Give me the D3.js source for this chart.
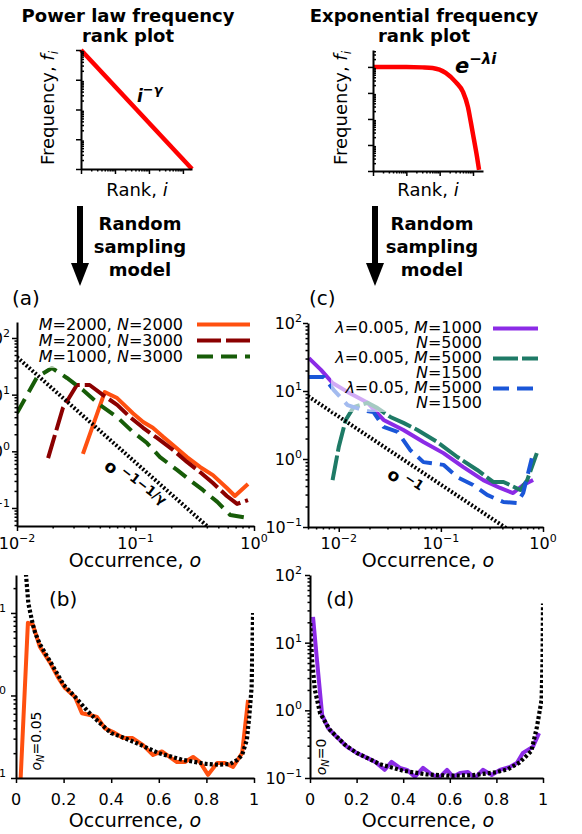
<!DOCTYPE html>
<html>
<head>
<meta charset="utf-8">
<script src="https://cdn.jsdelivr.net/npm/d3@7"></script>
<style>
  body { margin: 0; background: #fff; }
  text { white-space: pre; }
</style>
</head>
<body>
<div id="fig"></div>
<script>
// ---- values ----

// schematic rank plots (top row)
const powRank = [1, 1850];
const powFreq = [1, 0.0001];
const expRank = [1, 10, 30, 61, 152, 305, 500, 705, 870, 1070, 1320, 1520];
const expFreq = [1, 0.99, 0.96, 0.91, 0.59, 0.26, 0.11, 0.029, 0.007, 0.0016, 0.00035, 0.00011];

// (a) power law, occurrence distributions
const occA1 = [0.036, 0.055, 0.070, 0.095, 0.116, 0.14, 0.171, 0.207, 0.272, 0.35, 0.45, 0.59, 0.69, 0.89];
const valA1 = [0.9, 11.1, 8.7, 4.7, 3.3, 2.6, 1.8, 1.29, 0.79, 0.53, 0.38, 0.225, 0.163, 0.265];
const occA2 = [0.0183, 0.0244, 0.032, 0.041, 0.053, 0.070, 0.090, 0.116, 0.152, 0.207, 0.272, 0.35, 0.45, 0.59, 0.72, 0.89];
const valA2 = [0.76, 5.8, 14.8, 14.8, 9.9, 6.6, 4.0, 2.6, 1.72, 1.06, 0.65, 0.43, 0.276, 0.163, 0.118, 0.138];
const occA3 = [0.01, 0.0148, 0.0197, 0.0264, 0.036, 0.050, 0.070, 0.095, 0.125, 0.161, 0.224, 0.288, 0.37, 0.49, 0.63, 0.87];
const valA3 = [4.75, 20.5, 29.6, 19.7, 12.1, 6.6, 4.0, 2.2, 1.4, 0.79, 0.47, 0.31, 0.208, 0.128, 0.075, 0.067];
const refOccA = [0.01, 1];
const refValA = [46, 0.0088];
const legA = [[2000, 2000], [2000, 3000], [1000, 3000]];

// (c) exponential, occurrence distributions
const occC1 = [0.0051, 0.0067, 0.0087, 0.0122, 0.0192, 0.0275, 0.043, 0.0675, 0.106, 0.166, 0.26, 0.38, 0.51, 0.64, 0.80];
const valC1 = [30.5, 20.4, 13.1, 9.7, 6.7, 3.75, 2.67, 1.78, 1.22, 0.76, 0.49, 0.375, 0.316, 0.415, 0.49];
const occC2 = [0.0087, 0.01, 0.0117, 0.014, 0.0192, 0.024, 0.032, 0.043, 0.059, 0.092, 0.145, 0.227, 0.325, 0.41, 0.60, 0.70, 0.87];
const valC2 = [0.49, 1.5, 3.75, 5.8, 6.7, 5.6, 4.15, 3.4, 2.67, 1.78, 1.07, 0.69, 0.46, 0.46, 0.35, 0.49, 1.22];
const occC3 = [0.0051, 0.0071, 0.0089, 0.0122, 0.0175, 0.0219, 0.0275, 0.0377, 0.050, 0.0675, 0.106, 0.145, 0.207, 0.284, 0.41, 0.557, 0.64, 0.80];
const valC3 = [16.1, 16.1, 10.4, 6.2, 5.2, 4.9, 2.96, 2.5, 1.36, 0.90, 0.82, 0.54, 0.415, 0.296, 0.233, 0.225, 0.316, 1.22];
const refOccC = [0.005, 1];
const refValC = [8.4, 0.042];
const legC = [[0.005, 1000, 5000], [0.005, 5000, 1500], [0.05, 5000, 1500]];

// (b) single power-law case, linear occurrence
const occB = [0.018, 0.05, 0.071, 0.10, 0.143, 0.176, 0.206, 0.248, 0.277, 0.311, 0.34, 0.374, 0.408, 0.45, 0.49, 0.534, 0.576, 0.613, 0.676, 0.71, 0.744, 0.773, 0.807, 0.845, 0.878, 0.912, 0.95, 0.975];
const valB = [0.08, 7.6, 7.2, 3.9, 2.5, 1.67, 1.23, 0.96, 0.61, 0.58, 0.55, 0.40, 0.36, 0.305, 0.305, 0.25, 0.19, 0.21, 0.156, 0.156, 0.18, 0.156, 0.109, 0.152, 0.152, 0.136, 0.20, 0.88];
const occBt = [0.038, 0.052, 0.062, 0.071, 0.08, 0.1, 0.15, 0.2, 0.25, 0.3, 0.35, 0.4, 0.45, 0.5, 0.6, 0.7, 0.8, 0.85, 0.9, 0.93, 0.95, 0.97, 0.98, 0.99, 0.996];
const valBt = [40, 13, 9.5, 7.2, 5.8, 4.2, 2.4, 1.35, 0.95, 0.65, 0.47, 0.35, 0.31, 0.27, 0.2, 0.166, 0.148, 0.145, 0.148, 0.166, 0.19, 0.29, 0.55, 1.26, 10];

// (d) single exponential case, linear occurrence
const occD = [0.013, 0.03, 0.052, 0.077, 0.116, 0.159, 0.20, 0.245, 0.28, 0.32, 0.35, 0.386, 0.416, 0.45, 0.485, 0.524, 0.558, 0.588, 0.614, 0.644, 0.678, 0.708, 0.742, 0.78, 0.815, 0.858, 0.888, 0.914, 0.957, 0.983];
const valD = [24, 5.5, 0.86, 0.55, 0.40, 0.29, 0.235, 0.198, 0.173, 0.132, 0.173, 0.141, 0.132, 0.104, 0.141, 0.111, 0.104, 0.132, 0.104, 0.119, 0.123, 0.1, 0.132, 0.111, 0.132, 0.146, 0.167, 0.235, 0.29, 0.46];
const occDt = [0.001, 0.009, 0.021, 0.043, 0.086, 0.15, 0.2, 0.3, 0.4, 0.5, 0.6, 0.7, 0.8, 0.85, 0.9, 0.95, 0.974, 0.994, 0.998, 1.0];
const valDt = [19.5, 5.5, 2.0, 0.91, 0.51, 0.31, 0.235, 0.16, 0.128, 0.113, 0.108, 0.11, 0.122, 0.135, 0.17, 0.25, 0.57, 1.43, 5.5, 38];

const linTicks = [0, 0.2, 0.4, 0.6, 0.8, 1];

// ---- drawing ----
const svg = d3.select("#fig")
  .append("svg")
  .attr("width", 582)
  .attr("height", 834)
  .style("font-family", "'DejaVu Sans', sans-serif");

const defs = svg.append("defs");

function clip(id, x, y) {
  const [x0, x1] = x.range(), [y1, y0] = y.range();
  defs.append("clipPath").attr("id", id).append("rect")
    .attr("x", x0).attr("y", y0).attr("width", x1 - x0).attr("height", y1 - y0);
}

function logMinor(s) {
  const [a, b] = s.domain();
  const v = [];
  for (let e = Math.floor(Math.log10(a)); e < Math.ceil(Math.log10(b)); e++)
    for (let k = 2; k < 10; k++) {
      const t = k * Math.pow(10, e);
      if (t >= a && t <= b) v.push(t);
    }
  return v;
}

function drawAxes(x, y, xMaj, xMin, yMaj, yMin, yMinIn) {
  const g = svg.append("g");
  const yb = y.range()[0], xl = x.range()[0];
  g.append("g").attr("transform", `translate(0,${yb})`)
    .call(d3.axisBottom(x).tickValues(xMaj).tickSize(5).tickSizeOuter(0).tickFormat(""));
  if (xMin.length) g.append("g").attr("transform", `translate(0,${yb})`)
    .call(d3.axisBottom(x).tickValues(xMin).tickSize(2.5).tickSizeOuter(0).tickFormat(""))
    .select(".domain").remove();
  g.append("g").attr("transform", `translate(${xl},0)`)
    .call(d3.axisLeft(y).tickValues(yMaj).tickSize(5).tickSizeOuter(0).tickFormat(""));
  if (yMin.length) g.append("g").attr("transform", `translate(${xl},0)`)
    .call(d3.axisLeft(y).tickValues(yMin).tickSize(yMinIn ? -3 : 2.5).tickSizeOuter(0).tickFormat(""))
    .select(".domain").remove();
  g.selectAll(".domain").attr("stroke-width", 2);
  g.selectAll(".tick line").attr("stroke-width", 1.5);
  return g;
}

function powLabel(x, y, exp, anchor) {
  const t = svg.append("text").attr("x", x).attr("y", y)
    .attr("text-anchor", anchor).attr("font-size", 16).attr("fill", "#000");
  t.append("tspan").text("10");
  t.append("tspan").attr("dy", -7).attr("font-size", 11).text(exp);
}

function richText(x, y, parts, size, anchor) {
  const t = svg.append("text").attr("x", x).attr("y", y)
    .attr("text-anchor", anchor).attr("font-size", size);
  parts.forEach(p => t.append("tspan").attr("font-style", p[1] ? "italic" : null).text(p[0]));
  return t;
}

function series(id, x, y, xs, ys, color, dash, width, curve) {
  svg.append("path")
    .datum(d3.zip(xs, ys))
    .attr("clip-path", `url(#${id})`)
    .attr("fill", "none")
    .attr("stroke", color)
    .attr("stroke-width", width || 4)
    .attr("stroke-dasharray", dash)
    .attr("stroke-linejoin", "round")
    .attr("d", d3.line().curve(curve || d3.curveLinear).x(d => x(d[0])).y(d => y(d[1])));
}

const expTxt = e => e < 0 ? "\u2212" + (-e) : String(e);

// --- top titles ---
[["Power law frequency", 128], ["Exponential frequency", 424]].forEach(d => {
  svg.append("text").attr("x", d[1]).attr("y", 22).attr("text-anchor", "middle")
    .attr("font-size", 18).attr("font-weight", "bold").text(d[0]);
  svg.append("text").attr("x", d[1]).attr("y", 42).attr("text-anchor", "middle")
    .attr("font-size", 18).attr("font-weight", "bold").text("rank plot");
});

// --- schematic: power law ---
const xP = d3.scaleLog().domain([1, 1850]).range([81, 192]);
const yP = d3.scaleLog().domain([1e-4, 1]).range([169, 50]);
series("cp", xP, yP, powRank, powFreq, "#ff0000", null, 4.5);
drawAxes(xP, yP, [1, 10, 100, 1000], logMinor(xP), [1e-4, 1e-3, 1e-2, 1e-1, 1], logMinor(yP), true);
const tP = svg.append("text").attr("x", 137).attr("y", 102)
  .attr("font-weight", "bold").attr("font-style", "italic").attr("font-size", 17);
tP.append("tspan").text("i");
tP.append("tspan").attr("dy", -8).attr("font-size", 13).text("\u2212\u03b3");

// --- schematic: exponential ---
const xE = d3.scaleLog().domain([1, Math.pow(10, 3.3)]).range([373, 483]);
const yE = d3.scaleLog().domain([1e-4, Math.pow(10, 0.65)]).range([171, 50]);
series("ce", xE, yE, expRank, expFreq, "#ff0000", null, 4.5, d3.curveMonotoneX);
drawAxes(xE, yE, [1, 10, 100, 1000], logMinor(xE), [1e-4, 1e-3, 1e-2, 1e-1, 1], logMinor(yE), true);
const tE = svg.append("text").attr("x", 455).attr("y", 73)
  .attr("font-weight", "bold").attr("font-style", "italic").attr("font-size", 21);
tE.append("tspan").text("e");
tE.append("tspan").attr("dy", -9).attr("font-size", 15).text("\u2212\u03bbi");

[[54, 108], [347, 108]].forEach(p => {
  const t = svg.append("text").attr("transform", `translate(${p[0]},${p[1]}) rotate(-90)`)
    .attr("text-anchor", "middle").attr("font-size", 18);
  t.append("tspan").text("Frequency, ");
  t.append("tspan").attr("font-style", "italic").text("f");
  t.append("tspan").attr("font-style", "italic").attr("font-size", 12).attr("dy", 4).text("i");
});
richText(137, 196, [["Rank, ", 0], ["i", 1]], 18, "middle");
richText(428, 196, [["Rank, ", 0], ["i", 1]], 18, "middle");

// --- arrows + model text ---
[[80, 140], [375, 432]].forEach(p => {
  svg.append("rect").attr("x", p[0] - 3).attr("y", 206).attr("width", 6).attr("height", 60).attr("fill", "#000");
  svg.append("path").attr("d", `M${p[0] - 9},263L${p[0] + 9},263L${p[0]},286Z`).attr("fill", "#000");
  ["Random", "sampling", "model"].forEach((w, i) => {
    svg.append("text").attr("x", p[1]).attr("y", 230 + i * 23).attr("text-anchor", "middle")
      .attr("font-size", 18).attr("font-weight", "bold").text(w);
  });
});

// --- panel labels ---
[["(a)", 12, 305], ["(c)", 309, 305], ["(b)", 49, 606], ["(d)", 326, 606]].forEach(d => {
  svg.append("text").attr("x", d[1]).attr("y", d[2]).attr("font-size", 20).text(d[0]);
});

// --- (a) ---
const xA = d3.scaleLog().domain([0.01, 1]).range([17, 254]);
const yA = d3.scaleLog().domain([Math.pow(10, -1.318), Math.pow(10, 2.282)]).range([526, 322]);
clip("ca", xA, yA);
series("ca", xA, yA, occA1, valA1, "#ff5010", null);
series("ca", xA, yA, occA2, valA2, "#8b0000", "24,5");
series("ca", xA, yA, occA3, valA3, "#175c08", "16,8");
series("ca", xA, yA, refOccA, refValA, "#000", "2,2");
drawAxes(xA, yA, [0.01, 0.1, 1], logMinor(xA), [0.1, 1, 10, 100], logMinor(yA), false);
[-2, -1, 0].forEach(e => powLabel(xA(Math.pow(10, e)), 549, expTxt(e), "middle"));
[-1, 0, 1, 2].forEach(e => powLabel(10, yA(Math.pow(10, e)) + 6, expTxt(e), "end"));
richText(135, 567, [["Occurrence, ", 0], ["o", 1]], 19, "middle");
const rA = svg.append("text").attr("transform", "translate(103,468) rotate(38)")
  .attr("font-weight", "bold").attr("font-size", 17);
rA.append("tspan").text("o");
rA.append("tspan").attr("dy", -7).attr("font-size", 13).text(" \u22121\u22121/\u03b3");

svg.append("rect").attr("x", 35).attr("y", 317).attr("width", 221).attr("height", 51)
  .attr("rx", 3).attr("fill", "#fff").attr("fill-opacity", 0.6);
const styleA = [["#ff5010", null], ["#8b0000", "24,5"], ["#175c08", "16,8"]];
legA.forEach((d, i) => {
  const ly = 324.5 + i * 16;
  richText(183, ly + 5.5, [["M", 1], ["=" + d[0] + ", ", 0], ["N", 1], ["=" + d[1], 0]], 16, "end");
  svg.append("line").attr("x1", 197).attr("x2", 250).attr("y1", ly).attr("y2", ly)
    .attr("stroke", styleA[i][0]).attr("stroke-width", 4).attr("stroke-dasharray", styleA[i][1]);
});

// --- (c) ---
const xC = d3.scaleLog().domain([0.005, 1]).range([308, 543]);
const yC = d3.scaleLog().domain([0.1, 100]).range([527, 323]);
clip("cc", xC, yC);
series("cc", xC, yC, occC1, valC1, "#8b2be6", null);
series("cc", xC, yC, occC2, valC2, "#1e7a66", "25,4");
series("cc", xC, yC, occC3, valC3, "#1a56d8", "16,8");
series("cc", xC, yC, refOccC, refValC, "#000", "2,2");
drawAxes(xC, yC, [0.01, 0.1, 1], logMinor(xC), [0.1, 1, 10, 100], logMinor(yC), false);
[-2, -1, 0].forEach(e => powLabel(xC(Math.pow(10, e)), 549, expTxt(e), "middle"));
[-1, 0, 1, 2].forEach(e => powLabel(302, yC(Math.pow(10, e)) + 6, expTxt(e), "end"));
richText(428, 567, [["Occurrence, ", 0], ["o", 1]], 19, "middle");
const rC = svg.append("text").attr("transform", "translate(386,477) rotate(33)")
  .attr("font-weight", "bold").attr("font-size", 17);
rC.append("tspan").text("o");
rC.append("tspan").attr("dy", -7).attr("font-size", 13).text(" \u22121");

svg.append("rect").attr("x", 331).attr("y", 318).attr("width", 214).attr("height", 94)
  .attr("rx", 3).attr("fill", "#fff").attr("fill-opacity", 0.6);
const styleC = [["#8b2be6", null], ["#1e7a66", "25,4"], ["#1a56d8", "16,8"]];
legC.forEach((d, i) => {
  const ly = 328.5 + i * 30;
  richText(482, ly + 4.5, [["\u03bb", 1], ["=" + d[0] + ", ", 0], ["M", 1], ["=" + d[1], 0]], 16, "end");
  richText(482, ly + 19, [["N", 1], ["=" + d[2], 0]], 16, "end");
  svg.append("line").attr("x1", 493).attr("x2", 538).attr("y1", ly).attr("y2", ly)
    .attr("stroke", styleC[i][0]).attr("stroke-width", 4).attr("stroke-dasharray", styleC[i][1]);
});

// --- (b) ---
const xB = d3.scaleLinear().domain([0, 1]).range([16, 254]);
const yB = d3.scaleLog().domain([0.1, Math.pow(10, 1.46)]).range([778, 575]);
clip("cb", xB, yB);
series("cb", xB, yB, occB, valB, "#ff5010", null);
series("cb", xB, yB, occBt, valBt, "#000", "3,2.2", 4.2);
drawAxes(xB, yB, linTicks, [], [0.1, 1, 10], logMinor(yB), false);
linTicks.forEach(v => svg.append("text").attr("x", xB(v)).attr("y", 805)
  .attr("text-anchor", "middle").attr("font-size", 16).text(String(v)));
[-1, 0, 1].forEach(e => powLabel(6, yB(Math.pow(10, e)) + 6, expTxt(e), "end"));
richText(135, 827, [["Occurrence, ", 0], ["o", 1]], 19, "middle");
const nB = svg.append("text").attr("transform", "translate(41,741) rotate(-90)")
  .attr("text-anchor", "middle").attr("font-size", 14);
nB.append("tspan").attr("font-style", "italic").text("o");
nB.append("tspan").attr("font-style", "italic").attr("font-size", 10).attr("dy", 3).text("N");
nB.append("tspan").attr("dy", -3).text("=0.05");

// --- (d) ---
const xD = d3.scaleLinear().domain([0, 1]).range([310, 543]);
const yD = d3.scaleLog().domain([0.1, 100]).range([778, 575]);
clip("cd", xD, yD);
series("cd", xD, yD, occD, valD, "#8b2be6", null);
series("cd", xD, yD, occDt, valDt, "#000", "3,2.2", 4.2);
drawAxes(xD, yD, linTicks, [], [0.1, 1, 10, 100], logMinor(yD), false);
linTicks.forEach(v => svg.append("text").attr("x", xD(v)).attr("y", 805)
  .attr("text-anchor", "middle").attr("font-size", 16).text(String(v)));
[-1, 0, 1, 2].forEach(e => powLabel(302, yD(Math.pow(10, e)) + 6, expTxt(e), "end"));
richText(428, 827, [["Occurrence, ", 0], ["o", 1]], 19, "middle");
const nD = svg.append("text").attr("transform", "translate(326,757) rotate(-90)")
  .attr("text-anchor", "middle").attr("font-size", 14);
nD.append("tspan").attr("font-style", "italic").text("o");
nD.append("tspan").attr("font-style", "italic").attr("font-size", 10).attr("dy", 3).text("N");
nD.append("tspan").attr("dy", -3).text("=0");
</script>
</body>
</html>
